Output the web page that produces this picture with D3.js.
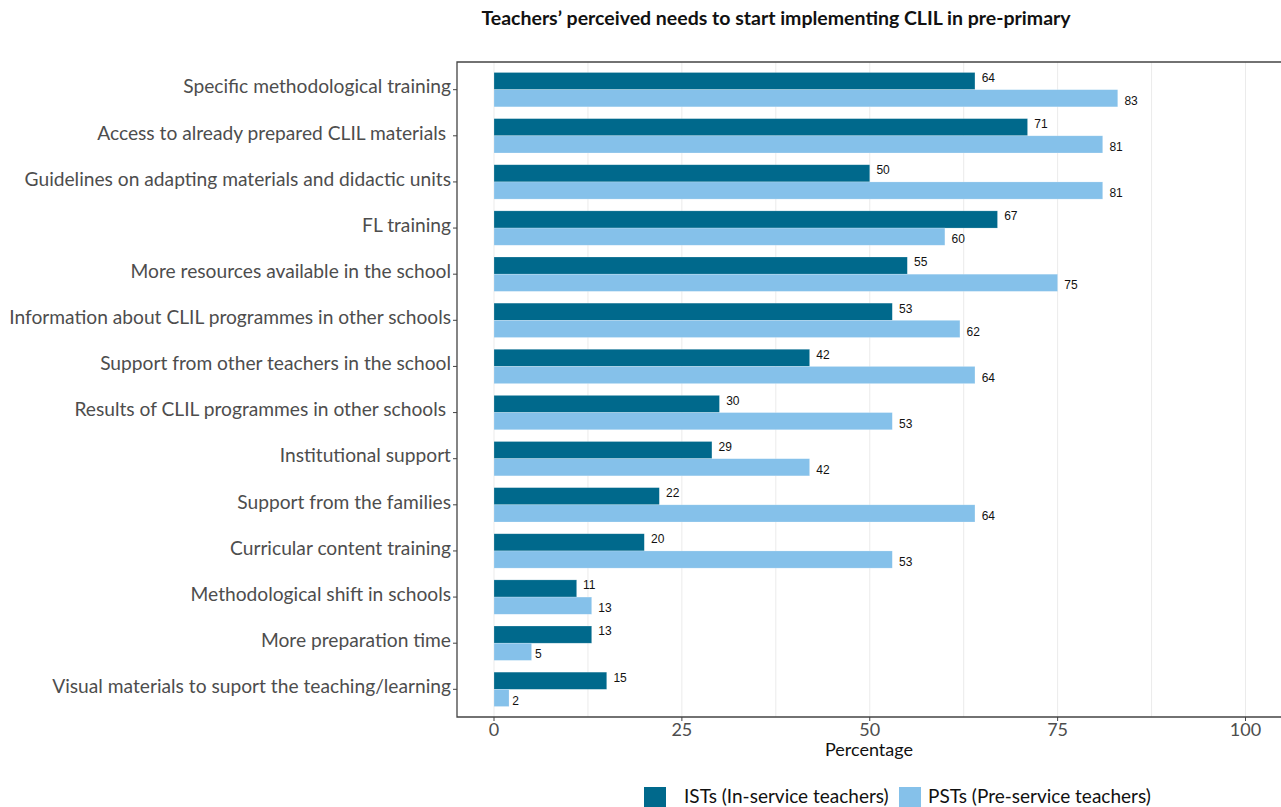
<!DOCTYPE html>
<html><head><meta charset="utf-8">
<script src="https://cdn.jsdelivr.net/npm/d3@7"></script>
<style>body{margin:0;background:#fff}svg{display:block}</style>
</head><body>
<svg id="c" width="1281" height="807"></svg>
<script>
const categories = [
  "Specific methodological training",
  "Access to already prepared CLIL materials ",
  "Guidelines on adapting materials and didactic units",
  "FL training",
  "More resources available in the school",
  "Information about CLIL programmes in other schools",
  "Support from other teachers in the school",
  "Results of CLIL programmes in other schools ",
  "Institutional support",
  "Support from the families",
  "Curricular content training",
  "Methodological shift in schools",
  "More preparation time",
  "Visual materials to suport the teaching/learning"
];
const istValues = [64,71,50,67,55,53,42,30,29,22,20,11,13,15];
const pstValues = [83,81,81,60,75,62,64,53,42,64,53,13,5,2];
const seriesNames = ["ISTs (In-service teachers)", "PSTs (Pre-service teachers)"];
const xTicks = [0,25,50,75,100];
const gridValues = [0,12.5,25,37.5,50,62.5,75,87.5,100];
const colors = ["#00698c", "#85c1ea"];

const svg = d3.select("#c");
const L = 457, T = 62, B = 717, R = 1300;
const x = d3.scaleLinear().domain([0,100]).range([494, 1245.5]);
const y = d3.scaleBand().domain(categories).range([T, B]).paddingInner(0).paddingOuter(0.1);
const pairH = y.step() * 0.745;

// grid
svg.append("g").selectAll("line").data(gridValues).join("line")
  .attr("x1", d => x(d)).attr("x2", d => x(d)).attr("y1", T).attr("y2", B)
  .attr("stroke", "#ebebeb").attr("stroke-width", 1);

// bars
const rows = categories.map((c,i) => ({c, v:[istValues[i], pstValues[i]]}));
const g = svg.append("g");
rows.forEach(r => {
  const cy = y(r.c) + y.bandwidth()/2;
  r.v.forEach((v,k) => {
    g.append("rect")
      .attr("x", x(0)).attr("width", x(v) - x(0))
      .attr("y", cy - pairH/2 + k*pairH/2).attr("height", pairH/2)
      .attr("fill", colors[k]).attr("stroke", "rgba(255,255,255,0.35)").attr("stroke-width", 0.6);
  });
});
rows.forEach(r => {
  const cy = y(r.c) + y.bandwidth()/2;
  r.v.forEach((v,k) => {
    const t = g.append("text")
      .attr("y", cy + (k === 0 ? -12 : 11)).attr("dy", "0.35em")
      .attr("font-family", "Liberation Sans, Arial, sans-serif").attr("font-size", 12)
      .attr("fill", "#111").text(v);
    const w = t.node().getComputedTextLength();
    t.attr("x", x(v) + w*0.5);
  });
});

// panel border
svg.append("path").attr("d", `M${R},${T}H${L}V${B}H${R}`)
  .attr("fill", "none").attr("stroke", "#444").attr("stroke-width", 1.3);

// y axis ticks & labels
const ya = svg.append("g");
categories.forEach(c => {
  const cy = y(c) + y.bandwidth()/2;
  ya.append("line").attr("x1", L-4).attr("x2", L).attr("y1", cy).attr("y2", cy).attr("stroke", "#444");
  ya.append("text").attr("x", L-6).attr("y", cy - 3).attr("dy", "0.35em")
    .attr("text-anchor", "end").style("white-space", "pre")
    .attr("font-family", "Lato, sans-serif").attr("font-size", 19.2).attr("fill", "#4d4d4d").text(c);
});

// x axis
const xa = svg.append("g");
xTicks.forEach(t => {
  xa.append("line").attr("x1", x(t)).attr("x2", x(t)).attr("y1", B).attr("y2", B+4).attr("stroke", "#444");
  xa.append("text").attr("x", x(t)).attr("y", B+13).attr("dy", "0.35em").attr("text-anchor", "middle")
    .attr("font-family", "Lato, sans-serif").attr("font-size", 18).attr("fill", "#4d4d4d").text(t);
});
svg.append("text").attr("x", 869).attr("y", 750).attr("dy", "0.35em").attr("text-anchor", "middle")
  .attr("font-family", "Lato, sans-serif").attr("font-size", 18).attr("fill", "#111").text("Percentage");

// title
svg.append("text").attr("x", 776).attr("y", 18).attr("dy", "0.35em").attr("text-anchor", "middle")
  .attr("font-family", "Lato, sans-serif").attr("font-weight", 700).attr("font-size", 19.5)
  .attr("fill", "#111").text("Teachers’ perceived needs to start implementing CLIL in pre-primary");

// legend
const lg = svg.append("g");
const legX = [644, 899];
seriesNames.forEach((s,k) => {
  lg.append("rect").attr("x", legX[k]).attr("y", 787).attr("width", 22).attr("height", 22).attr("fill", colors[k]);
  lg.append("text").attr("x", legX[k] + 40 - (k?11:0)).attr("y", 796).attr("dy", "0.35em")
    .attr("font-family", "Lato, sans-serif").attr("font-size", 19).attr("fill", "#111").text(s);
});
</script>
</body></html>
